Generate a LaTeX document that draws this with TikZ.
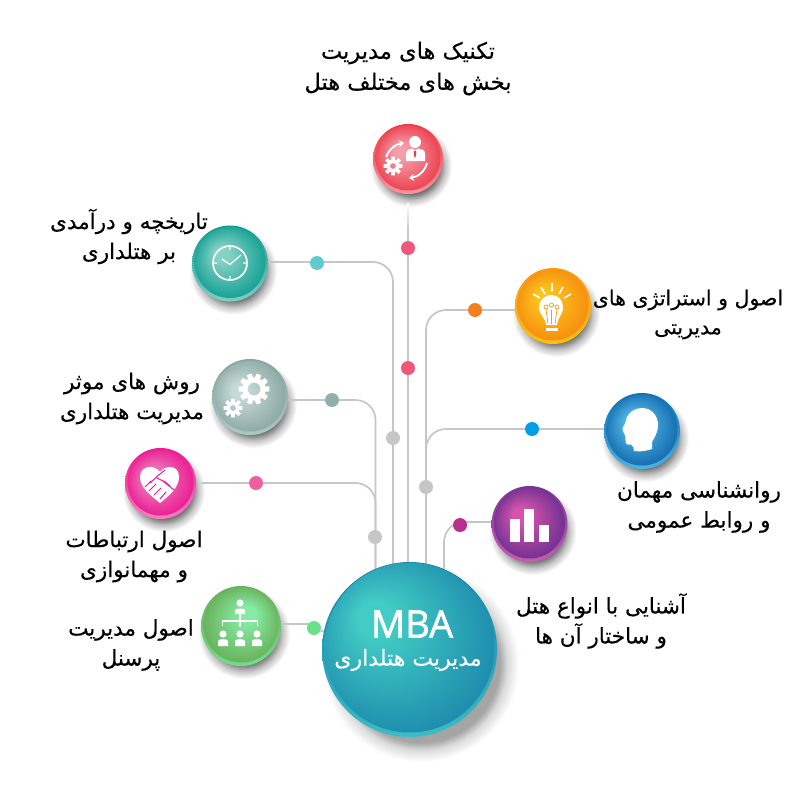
\documentclass[tikz,border=0pt]{standalone}
\usepackage{fontspec}
\usetikzlibrary{arrows.meta}
\newfontfamily\fa[Script=Arabic,FakeBold=0.35]{DejaVu Sans}
\newfontfamily\lat[FakeBold=1.6]{Open Sans}
\TeXXeTstate=1
\pgfdeclarelayer{shadowlayer}
\pgfdeclarelayer{linelayer}
\pgfsetlayers{shadowlayer,linelayer,main}
\newcommand\rl[1]{\beginR #1\endR}
\pgfdeclareradialshading{softshadow}{\pgfpointorigin}{color(0bp)=(black!60);color(17bp)=(black!55);color(21bp)=(black!22);color(25bp)=(white)}
\pgfdeclareradialshading{softshadowhub}{\pgfpointorigin}{color(0bp)=(black!40);color(20bp)=(black!35);color(22bp)=(black!14);color(25bp)=(white)}
% core shadings
\newcommand\coreshade[6]{%
 \definecolor{#1a}{HTML}{#4}\definecolor{#1b}{HTML}{#5}%
 \pgfdeclareradialshading{#1}{\pgfpoint{#2bp}{#3bp}}{color(0bp)=(#1a);color(5bp)=(#1a);color(#6bp)=(#1b)}}
\coreshade{sred}{-7}{6}{F59DA9}{EC3A48}{28}
\coreshade{steal}{-7}{7}{85D2C4}{089A8F}{29}
\coreshade{sgray}{-9}{5}{C6DAD6}{7F9D9A}{32}
\coreshade{spink}{-8}{5}{EF80BC}{EA1490}{28}
\coreshade{sgreen}{6}{9}{86EBA4}{68AF58}{27}
\coreshade{sorange}{-8}{7}{FDC41C}{F58A10}{28}
\coreshade{sblue}{-7}{7}{55BCEA}{0A60A6}{30}
\coreshade{spurple}{-8}{7}{D553AB}{672E90}{28}
\coreshade{shub}{-12}{10}{42CCC5}{1278A6}{36}
\definecolor{r1}{HTML}{EE3A48}\definecolor{r2}{HTML}{FA94A0}
\definecolor{t1}{HTML}{109A90}\definecolor{t2}{HTML}{7FCFC5}
\definecolor{g1}{HTML}{86A19F}\definecolor{g2}{HTML}{A9C9C6}
\definecolor{p1}{HTML}{EC1A90}\definecolor{p2}{HTML}{F67FBC}
\definecolor{n1}{HTML}{68B05C}\definecolor{n2}{HTML}{72DC8E}
\definecolor{o1}{HTML}{F79C14}\definecolor{o2}{HTML}{FCBF14}
\definecolor{b1}{HTML}{0F72B2}\definecolor{b2}{HTML}{49B3E3}
\definecolor{u1}{HTML}{7A3594}\definecolor{u2}{HTML}{C95AB0}
\definecolor{h1}{HTML}{1480A8}\definecolor{h2}{HTML}{3BBCC8}
\definecolor{dred}{HTML}{F0587A}
\definecolor{dteal}{HTML}{5FCAD0}
\definecolor{dgray}{HTML}{8FB0AE}
\definecolor{dpink}{HTML}{EF5FA0}
\definecolor{dorange}{HTML}{F58020}
\definecolor{dblue}{HTML}{00A0E8}
\definecolor{dpurple}{HTML}{B82F90}
\definecolor{dgreen}{HTML}{6BE08A}
\definecolor{linegray}{HTML}{C6C6C8}
\tikzset{
 x=1pt,y=-1pt,
 conn/.style={draw=linegray,line width=1.7pt,rounded corners=20pt},
 dotnode/.style={circle,inner sep=0pt,minimum size=14pt,fill=#1},
 labeltext/.style={font=\fa\fontsize{21.5}{30}\selectfont,align=center,text=black,inner sep=0pt},
 labelbig/.style={labeltext,font=\fa\fontsize{22.5}{31}\selectfont},
 labelsmall/.style={labeltext,font=\fa\fontsize{20.5}{29}\selectfont},
 icon/.style={fill=white,draw=none},
 iconline/.style={draw=white,line width=1.7pt},
}
% name, x, y, r, rim top, rim bottom, shading
\newcommand\ball[7]{%
 \begin{pgfonlayer}{shadowlayer}
  \shade[shading=softshadow] ({#2+3},{#3+7}) circle ({#4+6});
 \end{pgfonlayer}
 \node[circle,inner sep=0pt,minimum size=#4*2pt,top color=#5,bottom color=#6] (#1) at (#2,#3) {};
 \node[circle,inner sep=0pt,minimum size=#4*2pt-5pt,shade,shading=#7] (#1core) at (#2,{#3-1}) {};
}
% gear: centre, outer, inner, hole, teeth
\newcommand\gear[5]{%
 \begin{scope}[shift={#1}]
  \fill[white,even odd rule] plot[samples=#5*8+1,domain=0:360] (\x:{#3+(#2-#3)*(cos(#5*\x)>-0.1)}) -- cycle (0,0) circle (#4);
 \end{scope}}
\begin{document}
\begin{tikzpicture}
\useasboundingbox (0,0) rectangle (800,800);
\begin{pgfonlayer}{shadowlayer}
 \fill[white] (0,0) rectangle (800,800);
 \shade[shading=softshadowhub] (421,664) circle (98);
\end{pgfonlayer}

\ball{red}{408}{159}{35}{r1}{r2}{sred}
\ball{clock}{230}{263.5}{38}{t1}{t2}{steal}
\ball{gears}{250}{397}{38}{g1}{g2}{sgray}
\ball{pink}{160.5}{483.5}{35.5}{p1}{p2}{spink}
\ball{green}{241}{626}{40}{n1}{n2}{sgreen}
\ball{orange}{553}{306}{38}{o1}{o2}{sorange}
\ball{blue}{642}{431}{38}{b1}{b2}{sblue}
\ball{purple}{529.5}{524}{38}{u1}{u2}{spurple}
\node[circle,inner sep=0pt,minimum size=175pt,top color=h1,bottom color=h2] (hub) at (409.5,649.5) {};
\node[circle,inner sep=0pt,minimum size=170pt,shade,shading=shub] (hubcore) at (409.5,647.5) {};

% connector dots
\node[dotnode=dred] (d1) at (408,248) {};
\node[dotnode=dred] (d2) at (408,368) {};
\node[dotnode=dteal] (d3) at (317,263) {};
\node[dotnode=linegray] (d4) at (393,438) {};
\node[dotnode=dgray] (d5) at (332,400) {};
\node[dotnode=linegray] (d6) at (375,537) {};
\node[dotnode=dpink] (d7) at (256,483) {};
\node[dotnode=dorange] (d8) at (475,310) {};
\node[dotnode=linegray] (d9) at (426,487) {};
\node[dotnode=dblue] (d10) at (532,429) {};
\node[dotnode=dpurple] (d11) at (460,525) {};
\node[dotnode=dgreen] (d12) at (314,628) {};

% connectors
\coordinate (redstart) at (408,203);
\coordinate (redfade) at (408,232);
\coordinate (cbend) at (393,262);
\coordinate (gbend) at (375.5,400);
\coordinate (pbend) at (375.5,483);
\coordinate (pstart) at (201,483);
\coordinate (obend) at (426,310);
\coordinate (bbend) at (426,429);
\coordinate (ubend) at (444,522);
\coordinate (nstart) at (281,624);
\coordinate (hubleft) at (330,634);
\begin{pgfonlayer}{linelayer}
 \shade[top color=white,bottom color=linegray] (407.1,203) rectangle (408.9,232);
 \draw[conn] (redfade) -- (redfade |- hub);
 \draw[conn] (clock.east |- cbend) -- (cbend) -- (cbend |- hub);
 \draw[conn] (gears.east |- gbend) -- (gbend) -- (gbend |- hub);
 \draw[conn] (pstart) -- (pbend) -- (pbend |- hub);
 \draw[conn] (orange.west |- obend) -- (obend) -- (obend |- hub);
 \draw[conn] (blue.west |- bbend) -- (bbend) -- (bbend |- hub);
 \draw[conn] (purple.west |- ubend) -- (ubend) -- (ubend |- hub);
 \draw[conn,rounded corners=0pt] (nstart) -- (nstart -| d12);
 \draw[conn,rounded corners=0pt] (d12) -- (hubleft);
\end{pgfonlayer}

% labels
\node[labelbig] (t1) at (408,68.5) {\rl{تکنیک های مدیریت}\\\rl{بخش های مختلف هتل}};
\node[labeltext] (t2) at (129,236.5) {\rl{تاریخچه و درآمدی}\\\rl{بر هتلداری}};
\node[labeltext] (t3) at (132,398.5) {\rl{روش های موثر}\\\rl{مدیریت هتلداری}};
\node[labeltext] (t4) at (134,556.5) {\rl{اصول ارتباطات}\\\rl{و مهمانوازی}};
\node[labeltext] (t5) at (131,645) {\rl{اصول مدیریت}\\\rl{پرسنل}};
\node[labelsmall] (t6) at (688,314.5) {\rl{اصول و استراتژی های}\\\rl{مدیریتی}};
\node[labeltext] (t7) at (699,507) {\rl{روانشناسی مهمان}\\\rl{و روابط عمومی}};
\node[labeltext] (t8) at (601,621) {\rl{آشنایی با انواع هتل}\\\rl{و ساختار آن ها}};
\node[font=\lat\fontsize{38}{40}\selectfont,text=white,inner sep=0pt] (t9) at (412,624) {MBA};
\node[font=\fa\fontsize{22}{24}\selectfont,text=white,inner sep=0pt] (t10) at (408,660) {\rl{مدیریت هتلداری}};

% icon: person and arrows (red)
\fill[icon] (415,142) circle (6);
\fill[icon] (406,161) -- (406,153) .. controls (406,150) and (409,149) .. (412,148.5) -- (415,150) -- (418,148.5) .. controls (421,149) and (425,150) .. (425,153) -- (425,161) -- cycle;
\fill[r1] (415,150) -- (416.3,152) -- (415.6,157) -- (415,158) -- (414.4,157) -- (413.7,152) -- cycle;
\gear{(393,166)}{9.5}{6.5}{3}{8}
\draw[white,line width=1.9pt,-{Stealth[length=5pt,width=7pt]}] (386,157) .. controls (389,149) and (396,144) .. (404,143);
\draw[white,line width=1.9pt,-{Stealth[length=5pt,width=7pt]}] (427,163) .. controls (425,171) and (418,177) .. (409,178);

% icon: clock
\draw[iconline] (230,263) circle (17);
\draw[white,line width=1.2pt] (230,246) -- (230,250) (230,276) -- (230,280) (213,263) -- (217,263) (243,263) -- (247,263) (222,259) -- (230,264.5) -- (241,255);

% icon: gears
\gear{(254,389)}{15.5}{11.5}{6.5}{10}
\gear{(233,408)}{9.5}{6.5}{3}{8}

% icon: handshake heart
\fill[icon] (160,503) .. controls (150,495) and (140,487) .. (140,477) .. controls (140,470) and (145,467) .. (150,467) .. controls (154,467) and (158,469) .. (160,472) .. controls (162,469) and (166,467) .. (170,467) .. controls (175,467) and (179,470) .. (179,477) .. controls (179,487) and (170,495) .. (160,503) -- cycle;
\draw[p1,line width=1pt,line cap=round] (150,483) -- (160,474) -- (165,470) (157,478) -- (163,481) -- (174,490) (145,487) -- (151,481) (149,491) -- (156,484) (154,495) -- (161,488) (160,499) -- (166,492) (164,481) -- (170,486);

% icon: bulb
\fill[icon] (546,325) .. controls (546,318) and (539,315) .. (539,307) .. controls (539,300) and (545,295) .. (551,295) .. controls (558,295) and (563,300) .. (563,307) .. controls (563,315) and (557,318) .. (557,325) -- cycle;
\fill[icon] (546,327.5) rectangle (558,330.5);
\draw[o1,line width=.7pt] (548,324) -- (546,309) (555,324) -- (557,309) (551.5,310) -- (551.5,324);
\draw[o1,line width=.7pt] (546,307) circle (2) (551.5,305) circle (2) (557,307) circle (2);
\draw[white,line width=1.6pt] (552,283) -- (552,291) (533,294) -- (540,298) (571,294) -- (564,298) (541,287) -- (545,294) (563,287) -- (559,294);

% icon: head
\fill[icon] (634,451) .. controls (634,448) and (633,445) .. (631,444.5) .. controls (627,445) and (625,444) .. (625.5,440) .. controls (625.5,436) and (625,434) .. (623,431) -- (622.5,428) .. controls (625,425) and (626,420) .. (627,417) .. controls (630,411) and (636,408) .. (642,408) .. controls (652,408) and (658,416) .. (658,425) .. controls (658,433) and (654,438) .. (652,442) -- (652,449) .. controls (646,451) and (640,452) .. (634,451) -- cycle;

% icon: bars
\fill[icon] (510,519) rectangle (520,542);
\fill[icon] (524,509) rectangle (534,542);
\fill[icon] (539,525) rectangle (549,542);

% icon: org chart
\fill[icon] (240,603) circle (3.6);
\fill[icon] (235,614) -- (235,610) .. controls (235,608) and (245,608) .. (245,610) -- (245,614) -- cycle;
\draw[white,line width=1.1pt] (240,614) -- (240,627) (222.5,626) -- (222.5,621) -- (257.5,621) -- (257.5,626);
\foreach \px in {223,240,257}{
 \fill[icon] (\px,634) circle (3.6);
 \fill[icon] (\px-5,646) -- (\px-5,641) .. controls (\px-5,638.5) and (\px+5,638.5) .. (\px+5,641) -- (\px+5,646) -- cycle;
}
\end{tikzpicture}
\end{document}
